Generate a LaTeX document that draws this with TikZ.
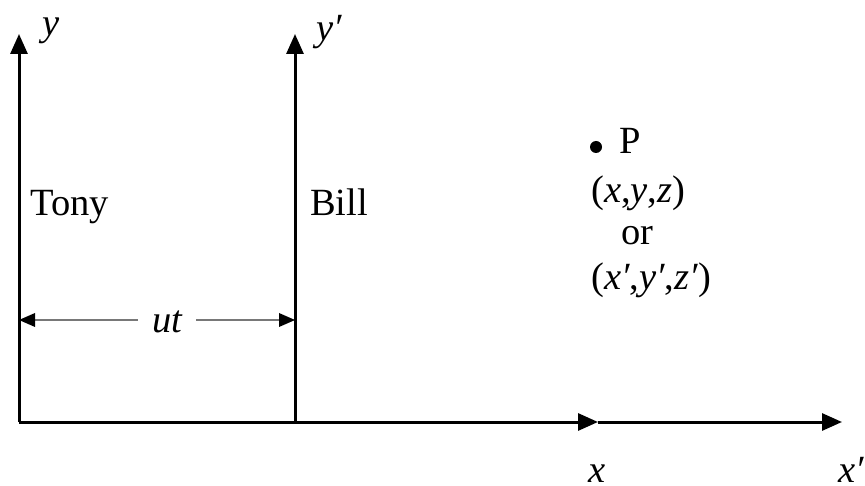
\documentclass[tikz,border=0pt]{standalone}
\usepackage{fontspec}
\setmainfont{Liberation Serif}
\usetikzlibrary{arrows.meta}
\begin{document}
\begin{tikzpicture}[x=1pt,y=-1pt,
  axis/.style={line width=3pt,-{Triangle[length=20pt,width=17pt]}},
  dim/.style={line width=2pt,draw={rgb,255:red,120;green,120;blue,120},-{Triangle[length=16pt,width=14pt,color=black,line width=0pt]}},
  lbl/.style={anchor=base west,inner sep=0pt,font=\fontsize{38.5}{42}\selectfont},
  ilbl/.style={lbl,font=\fontsize{38.5}{42}\selectfont\itshape}]
\useasboundingbox (0,0) rectangle (865,486);
\coordinate (O) at (19,422);
\coordinate (Ob) at (295,422);
\coordinate (Ytip) at (19,34);
\coordinate (Ybtip) at (295,34);
\coordinate (Xmid) at (598,422);
\coordinate (Xend) at (842,422);
\coordinate (Dl) at (19,320);
\coordinate (Dr) at (295,320);
\draw[axis] (O) -- (Ytip);
\draw[axis] (Ob) -- (Ybtip);
\draw[axis] (O) -- (Xmid);
\draw[axis] (Xmid) -- (Xend);
\node[ilbl] (ylab) at (42,36) {y};
\node[ilbl] (yblab) at (316,41) {y′};
\node[lbl] (tony) at (30,216) {Tony};
\node[lbl] (bill) at (310,216) {Bill};
\node[ilbl,anchor=base,inner xsep=14pt] (ut) at (167,333) {ut};
\draw[dim] (ut.west |- Dl) -- (Dl);
\draw[dim] (ut.east |- Dr) -- (Dr);
\fill (596,147) circle (6pt) coordinate (Pdot);
\node[lbl] (P) at (619,154) {P};
\node[lbl] (xyz) at (591,203) {(\textit{x},\textit{y},\textit{z})};
\node[lbl] (or) at (621,245) {or};
\node[lbl] (xyzb) at (591,290) {(\textit{x′},\textit{y′},\textit{z′})};
\node[ilbl] (xlab) at (588,482) {x};
\node[ilbl] (xblab) at (838,482) {x′};
\end{tikzpicture}
\end{document}
